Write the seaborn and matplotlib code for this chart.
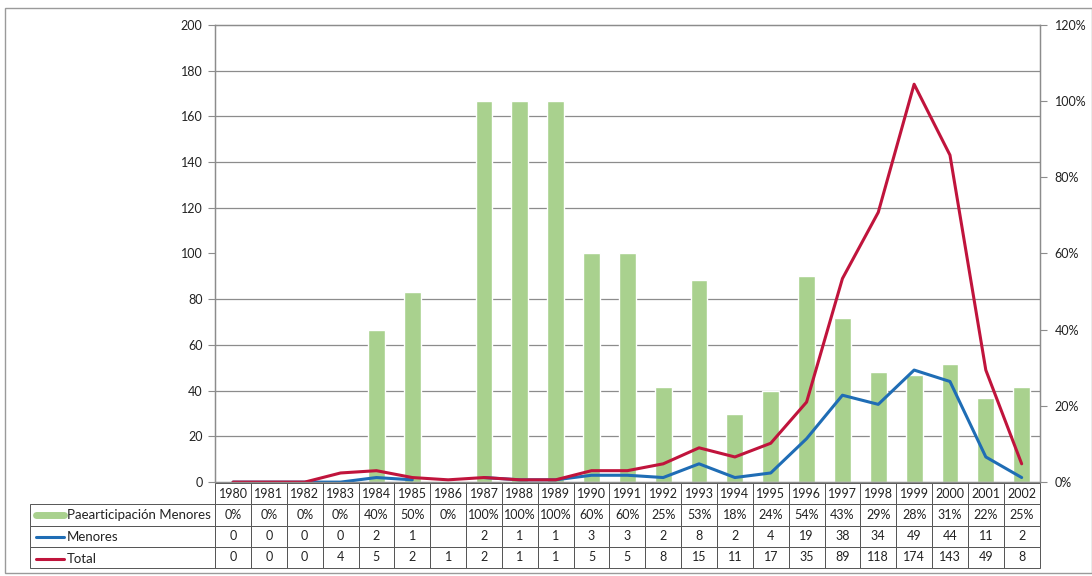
import matplotlib.pyplot as plt
import matplotlib.lines as mlines
import matplotlib.patches as mpatches
import numpy as np
import pandas as pd
import seaborn as sb

sb.set_style("white")
plt.rcParams['font.family'] = ['Lato', 'DejaVu Sans']

years = [str(y) for y in range(1980, 2003)]
participacion = [0, 0, 0, 0, 40, 50, 0, 100, 100, 100, 60, 60, 25, 53, 18, 24, 54, 43, 29, 28, 31, 22, 25]
menores = [0, 0, 0, 0, 2, 1, np.nan, 2, 1, 1, 3, 3, 2, 8, 2, 4, 19, 38, 34, 49, 44, 11, 2]
total = [0, 0, 0, 4, 5, 2, 1, 2, 1, 1, 5, 5, 8, 15, 11, 17, 35, 89, 118, 174, 143, 49, 8]

df = pd.DataFrame({"year": years, "part": participacion, "menores": menores, "total": total})

GREEN = "#a9d18e"
BLUE = "#1f6db5"
RED = "#c0143c"
GRID = "#8c8c8c"
TXT = "#222222"

fig = plt.figure(figsize=(10.92, 5.76), dpi=100)
# outer chart frame
fig.patches.append(mpatches.Rectangle((5 / 1092, 3 / 576), 1 - 5 / 1092, 1 - 11 / 576,
                                      transform=fig.transFigure, fill=False,
                                      edgecolor="#9a9a9a", lw=1))

ax_bar = fig.add_axes([0.197, 0.163, 0.755, 0.794])
ax_line = ax_bar.twinx()
ax_line.set_zorder(ax_bar.get_zorder() + 1)
ax_line.patch.set_visible(False)

# bars (percentage, right axis)
sb.barplot(x="year", y="part", data=df, color=GREEN, width=0.47, ax=ax_bar,
           saturation=1, zorder=2)
ax_bar.set_ylim(0, 120)
ax_bar.set_xlim(-0.5, len(years) - 0.5)
ax_bar.yaxis.tick_right()
ax_bar.set_yticks(range(0, 121, 20))
ax_bar.set_yticklabels([f"{v}%" for v in range(0, 121, 20)])
ax_bar.set_yticks(np.arange(0, 121, 12), minor=True)
ax_bar.grid(which="minor", axis="y", color=GRID, lw=0.9, zorder=0)
ax_bar.grid(which="major", axis="y", visible=False)
ax_bar.set_axisbelow(True)
ax_bar.tick_params(axis="y", which="major", right=True, length=5, color=GRID,
                   labelsize=9, labelcolor=TXT, pad=6)
ax_bar.tick_params(axis="y", which="minor", length=0)
ax_bar.set_xticks([])
ax_bar.set_xlabel("")
ax_bar.set_ylabel("")

# lines (counts, left axis)
ax_line.plot(df["year"], df["menores"], color=BLUE, lw=2.2, solid_capstyle="round")
ax_line.plot(df["year"], df["total"], color=RED, lw=2.2, solid_capstyle="round")
ax_line.set_ylim(0, 200)
ax_line.yaxis.tick_left()
ax_line.set_yticks(range(0, 201, 20))
ax_line.tick_params(axis="y", left=True, right=False, length=5, color=GRID,
                    labelsize=9, labelcolor=TXT, pad=4)
ax_line.set_xticks([])
ax_line.set_xlim(-0.5, len(years) - 0.5)

for a in (ax_bar, ax_line):
    for side in ("left", "right", "top", "bottom"):
        a.spines[side].set_color(GRID)
        a.spines[side].set_linewidth(0.9)

# data table below the plot
cell_text = [[""] + years,
             [""] + [f"{v}%" for v in participacion],
             [""] + ["" if np.isnan(v) else str(int(v)) for v in menores],
             [""] + [str(v) for v in total]]
label_w = 185 / 825
col_w = 1 / len(years)
tbl = ax_line.table(cellText=cell_text, cellLoc="center",
                    colWidths=[label_w] + [col_w] * len(years),
                    bbox=[-label_w, -0.188, 1 + label_w, 0.186])
tbl.auto_set_font_size(False)
tbl.set_fontsize(9)
for (r, c), cell in tbl.get_celld().items():
    cell.set_edgecolor("#555555")
    cell.set_linewidth(0.7)
    cell.get_text().set_color(TXT)
tbl[0, 0].visible_edges = ""

# legend keys in the table
rows_y = [(482 - 514.5) / 457, (482 - 537) / 457, (482 - 558.5) / 457]
keys = [("Paearticipación Menores", GREEN, 5), ("Menores", BLUE, 2.2), ("Total", RED, 2.2)]
for yy, (lab, col, lw) in zip(rows_y, keys):
    x0 = (36 - 215) / 825
    x1 = (64 - 215) / 825
    ax_line.add_line(mlines.Line2D([x0, x1], [yy, yy], transform=ax_line.transAxes,
                                   color=col, lw=lw, clip_on=False))
    ax_line.text((67 - 215) / 825, yy, lab, transform=ax_line.transAxes,
                 ha="left", va="center", fontsize=9.5, color=TXT)

fig.savefig("out.png", dpi=100)
